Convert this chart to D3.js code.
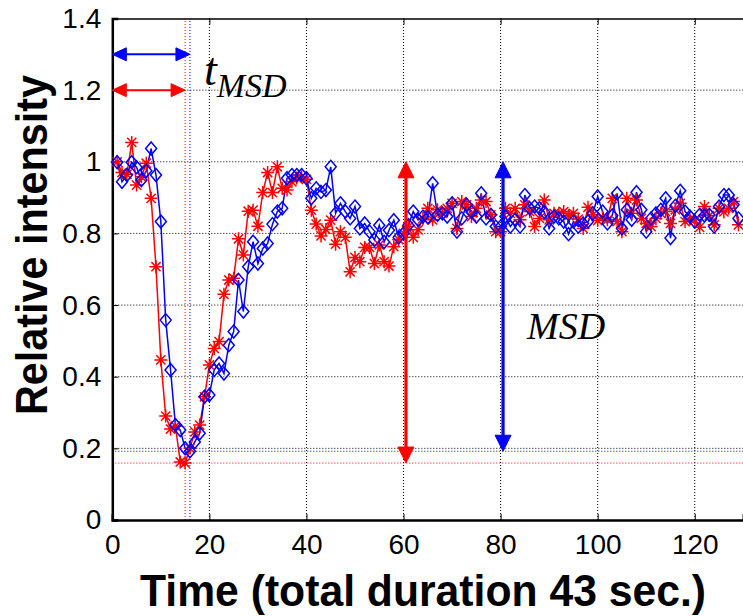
<!DOCTYPE html>
<html>
<head>
<meta charset="utf-8">
<script src="https://cdn.jsdelivr.net/npm/d3@7"></script>
<style>
  html, body { margin: 0; padding: 0; background: #fff; }
  svg { display: block; }
</style>
</head>
<body>
<svg id="chart" width="743" height="616"></svg>
<script>
// Relative intensity per frame (frames 1..129)
const redSeries = [1.00,0.97,0.965,1.054,0.935,0.958,0.996,0.898,0.707,0.447,
  0.290,0.254,0.262,0.162,0.159,0.20,0.246,0.265,0.344,0.433,
  0.479,0.498,0.630,0.670,0.675,0.785,0.740,0.862,0.865,0.82,
  0.914,0.97,0.914,0.986,0.926,0.921,0.944,0.955,0.958,0.951,
  0.865,0.826,0.793,0.811,0.837,0.770,0.805,0.789,0.693,0.733,
  0.721,0.761,0.761,0.716,0.768,0.721,0.709,0.763,0.783,0.80,
  0.819,0.789,0.810,0.842,0.870,0.838,0.866,0.856,0.870,0.884,
  0.814,0.889,0.880,0.847,0.870,0.893,0.889,0.852,0.805,0.805,
  0.870,0.856,0.870,0.838,0.880,0.861,0.819,0.842,0.893,0.838,
  0.856,0.856,0.861,0.85,0.856,0.84,0.814,0.873,0.852,0.836,
  0.845,0.838,0.898,0.833,0.805,0.898,0.856,0.893,0.842,0.828,
  0.819,0.842,0.856,0.861,0.828,0.866,0.884,0.833,0.84,0.838,
  0.817,0.875,0.85,0.824,0.870,0.86,0.87,0.889,0.824];

const blueSeries = [0.999,0.944,0.963,0.999,0.985,0.949,0.975,1.037,0.963,0.833,
  0.558,0.419,0.265,0.251,0.200,0.192,0.218,0.242,0.344,0.349,
  0.419,0.437,0.409,0.488,0.526,0.670,0.582,0.707,0.777,0.716,
  0.758,0.772,0.826,0.861,0.870,0.954,0.963,0.963,0.963,0.954,
  0.898,0.926,0.916,0.921,0.986,0.856,0.884,0.861,0.842,0.875,
  0.814,0.828,0.805,0.782,0.823,0.776,0.809,0.837,0.789,0.800,
  0.823,0.861,0.838,0.847,0.845,0.940,0.852,0.856,0.847,0.884,
  0.805,0.842,0.880,0.86,0.847,0.912,0.842,0.852,0.819,0.819,
  0.847,0.819,0.838,0.819,0.907,0.870,0.875,0.870,0.86,0.814,
  0.847,0.842,0.833,0.798,0.833,0.819,0.828,0.833,0.856,0.903,
  0.861,0.828,0.85,0.912,0.814,0.866,0.838,0.915,0.866,0.805,
  0.842,0.856,0.866,0.898,0.787,0.877,0.919,0.861,0.847,0.833,
  0.852,0.85,0.852,0.819,0.875,0.907,0.907,0.880,0.842];

const xTicks = [0, 20, 40, 60, 80, 100, 120];
const yTicks = [0, 0.2, 0.4, 0.6, 0.8, 1.0, 1.2, 1.4];
const yTickLabels = ["0", "0.2", "0.4", "0.6", "0.8", "1", "1.2", "1.4"];

// Annotation anchors (frame positions and levels)
const baselineLevel = 1.0;
const msdArrowX = { red: 60.5, blue: 80.5 };
const tArrowY = { red: 1.2, blue: 1.3 };

const RED = "#ff0000", BLUE = "#0000ff";
const SANS = "Liberation Sans, Arial, sans-serif";

const svg = d3.select("#chart");
const plotL = 112.3, plotR = 743.3, plotT = 18.5, plotB = 520;

const x = d3.scaleLinear().domain([0, 130]).range([plotL, plotR]);
const y = d3.scaleLinear().domain([0, 1.4]).range([plotB, plotT]);

// grid (dotted)
const grid = svg.append("g");
grid.selectAll(".gx").data(xTicks.filter(d => d > 0)).enter().append("line")
  .attr("x1", d => x(d)).attr("x2", d => x(d)).attr("y1", y(0)).attr("y2", y(1.4))
  .attr("stroke", "#000").attr("stroke-width", 1).attr("stroke-dasharray", "1,2");
grid.selectAll(".gy").data(yTicks.filter(d => d > 0 && d < 1.4)).enter().append("line")
  .attr("x1", x(0)).attr("x2", x(130)).attr("y1", d => y(d)).attr("y2", d => y(d))
  .attr("stroke", "#000").attr("stroke-width", 1).attr("stroke-dasharray", "1,2");

// minima of each series
function minOf(arr) {
  const i = d3.minIndex(arr);
  return { t: i + 1, v: arr[i] };
}
const redMin = minOf(redSeries), blueMin = minOf(blueSeries);

// dotted reference lines through the minima
const refs = svg.append("g");
[[redMin, RED], [blueMin, BLUE]].forEach(([m, c]) => {
  refs.append("line").attr("x1", x(m.t)).attr("x2", x(m.t)).attr("y1", y(0)).attr("y2", y(1.4))
    .attr("stroke", c).attr("stroke-width", 1).attr("stroke-dasharray", "1,2");
  refs.append("line").attr("x1", x(0)).attr("x2", x(130)).attr("y1", y(m.v)).attr("y2", y(m.v))
    .attr("stroke", c).attr("stroke-width", 1).attr("stroke-dasharray", "1,2");
});

// axes
const xAxis = d3.axisBottom(x).tickValues(xTicks).tickSize(-6).tickPadding(14);
const yAxis = d3.axisLeft(y).tickValues(yTicks).tickSize(-6).tickPadding(11)
  .tickFormat((d, i) => yTickLabels[i]);

const gx = svg.append("g").attr("transform", `translate(0,${plotB})`).call(xAxis);
const gy = svg.append("g").attr("transform", `translate(${plotL},0)`).call(yAxis);
[gx, gy].forEach(g => {
  g.select(".domain").attr("stroke", "#000").attr("stroke-width", 2.5);
  g.selectAll(".tick line").attr("stroke", "#000").attr("stroke-width", 1);
  g.selectAll("text").attr("font-family", SANS).attr("font-size", 28).attr("fill", "#000");
});
// top frame with mirrored ticks
const gt = svg.append("g").attr("transform", `translate(0,${plotT})`)
  .call(d3.axisTop(x).tickValues(xTicks).tickSize(-6).tickFormat(""));
gt.select(".domain").attr("stroke", "#000").attr("stroke-width", 1.5);
gt.selectAll(".tick line").attr("stroke", "#000");

// series
const line = d3.line().x((d, i) => x(i + 1)).y(d => y(d));
svg.append("path").datum(redSeries).attr("d", line)
  .attr("fill", "none").attr("stroke", RED).attr("stroke-width", 1.5);
svg.append("path").datum(blueSeries).attr("d", line)
  .attr("fill", "none").attr("stroke", BLUE).attr("stroke-width", 1.5);

const star = "M-6.5,0H6.5M0,-6.5V6.5M-4.6,-4.6L4.6,4.6M-4.6,4.6L4.6,-4.6";
svg.append("g").selectAll("path").data(redSeries).enter().append("path")
  .attr("d", star).attr("transform", (d, i) => `translate(${x(i + 1)},${y(d)})`)
  .attr("stroke", RED).attr("stroke-width", 1.5).attr("fill", "none");

const diamond = "M0,-6.5L5.5,0L0,6.5L-5.5,0Z";
svg.append("g").selectAll("path").data(blueSeries).enter().append("path")
  .attr("d", diamond).attr("transform", (d, i) => `translate(${x(i + 1)},${y(d)})`)
  .attr("stroke", BLUE).attr("stroke-width", 1.5).attr("fill", "none");

// arrows
function arrowHead(px, py, dx, dy, len, half, color) {
  const nx = -dy, ny = dx;
  const bx = px - dx * len, by = py - dy * len;
  svg.append("path")
    .attr("d", `M${px},${py}L${bx + nx * half},${by + ny * half}L${bx - nx * half},${by - ny * half}Z`)
    .attr("fill", color).attr("stroke", color).attr("stroke-width", 1);
}
function hArrow(t0, t1, v, color) {
  const x0 = x(t0), x1 = x(t1), yy = y(v);
  svg.append("line").attr("x1", x0 + 8).attr("x2", x1 - 8).attr("y1", yy).attr("y2", yy)
    .attr("stroke", color).attr("stroke-width", 2);
  arrowHead(x0, yy, -1, 0, 14, 6.5, color);
  arrowHead(x1, yy, 1, 0, 14, 6.5, color);
}
function vArrow(t, v0, v1, color) {
  const xx = x(t), y0 = y(v0), y1 = y(v1);
  svg.append("line").attr("x1", xx).attr("x2", xx).attr("y1", y0 - 8).attr("y2", y1 + 8)
    .attr("stroke", color).attr("stroke-width", 3.2);
  arrowHead(xx, y0, 0, 1, 16, 8, color);
  arrowHead(xx, y1, 0, -1, 16, 8, color);
}
hArrow(0, blueMin.t, tArrowY.blue, BLUE);
hArrow(0, redMin.t, tArrowY.red, RED);
vArrow(msdArrowX.red, redMin.v, baselineLevel, RED);
vArrow(msdArrowX.blue, blueMin.v, baselineLevel, BLUE);

// annotation text
const serif = "Liberation Serif, Times New Roman, serif";
const tl = svg.append("text").attr("x", 204).attr("y", 85)
  .attr("font-family", serif).attr("font-style", "italic").attr("font-size", 46).attr("fill", "#000");
tl.append("tspan").text("t");
tl.append("tspan").attr("font-size", 34).attr("dy", 12).text("MSD");

svg.append("text").attr("x", 527).attr("y", 339)
  .attr("font-family", serif).attr("font-style", "italic").attr("font-size", 38).attr("fill", "#000")
  .text("MSD");

// axis titles
svg.append("text").attr("x", 423).attr("y", 606).attr("text-anchor", "middle")
  .attr("font-family", SANS).attr("font-weight", "bold")
  .attr("font-size", 44).attr("textLength", 566).attr("lengthAdjust", "spacingAndGlyphs")
  .attr("fill", "#000")
  .text("Time (total duration 43 sec.)");
svg.append("text").attr("transform", "translate(47,245) rotate(-90)").attr("text-anchor", "middle")
  .attr("font-family", SANS).attr("font-weight", "bold")
  .attr("font-size", 44).attr("textLength", 340).attr("lengthAdjust", "spacingAndGlyphs")
  .attr("fill", "#000")
  .text("Relative intensity");
</script>
</body>
</html>
